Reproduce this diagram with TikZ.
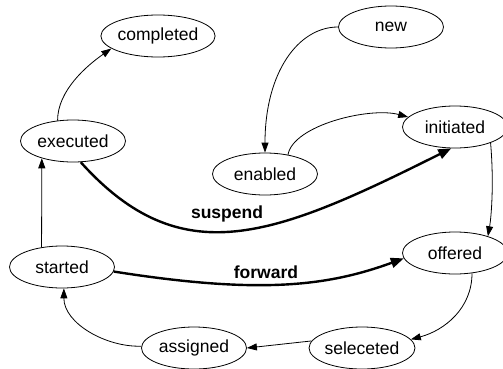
\documentclass[tikz,border=0pt]{standalone}
\usepackage{fontspec}
\setmainfont{Liberation Sans}
\usetikzlibrary{shapes.geometric,arrows.meta}
\begin{document}
\begin{tikzpicture}[x=1pt,y=1pt]
            \tikzset{State/.style={ellipse,draw,line width=0.8pt,minimum width=105pt,minimum height=42pt,inner sep=0pt,font=\fontsize{17.5}{21}\selectfont}}
            \tikzset{Edge/.style={line width=0.8pt,-{Triangle[length=10pt,width=7pt]}}}
            \tikzset{Heavy/.style={line width=2.4pt,-{Triangle[length=13pt,width=10pt]}}}
            \tikzset{Label/.style={font=\fontsize{17.5}{21}\selectfont\bfseries}}
            \path[use as bounding box,clip] (0,0) rectangle (503,368);
            \node[State] (completed) at (158,332) {completed};
            \node[State] (new) at (391,341) {new};
            \node[State] (executed) at (73,227) {executed};
            \node[State] (initiated) at (455,241) {initiated};
            \node[State] (enabled) at (265,194) {enabled};
            \node[State] (started) at (62,101) {started};
            \node[State] (offered) at (455,115) {offered};
            \node[State] (assigned) at (194,20) {assigned};
            \node[State] (seleceted) at (362,20) {seleceted};
            \node[Label] (suspend) at (227,154) {suspend};
            \node[Label] (forward) at (266,96) {forward};
            \draw[Edge] (executed.127) .. controls +(up:30pt) and +(215:30pt) .. (completed.195);
            \draw[Edge] (new.west) .. controls +(left:40pt) and +(up:80pt) .. (enabled.north);
            \draw[Edge] (enabled.40) .. controls +(80:30pt) and +(165:40pt) .. (initiated.168);
            \draw[Edge] (initiated.-24) .. controls +(-85:40pt) and +(80:20pt) .. (offered.27);
            \draw[Heavy] (executed.-70) .. controls +(-48:150pt) and +(206.6:200pt) .. (initiated.-100);
            \draw[Heavy] (started.-5) .. controls +(-9:150pt) and +(200:80pt) .. (offered.186);
            \draw[Edge] (offered.-50) .. controls +(down:35pt) and +(15:35pt) .. (seleceted.10);
            \draw[Edge] (seleceted.172) -- (assigned.east);
            \draw[Edge] (assigned.178) .. controls +(182:35pt) and +(down:35pt) .. (started.-85);
            \draw[Edge] (started.136) -- (executed.209);
        \end{tikzpicture}
\end{document}
